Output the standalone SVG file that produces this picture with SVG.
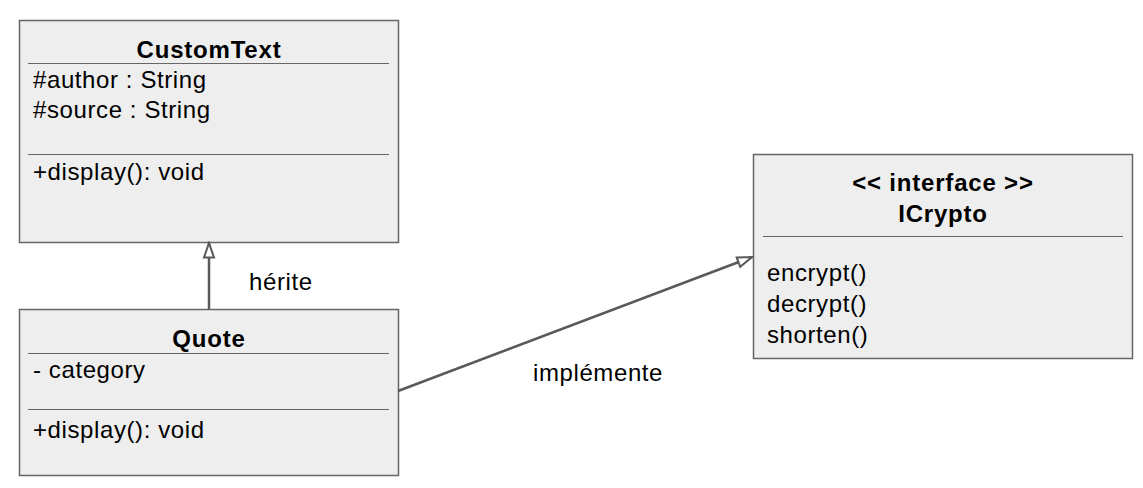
<svg xmlns="http://www.w3.org/2000/svg" width="1143" height="488" viewBox="0 0 1143 488">
<style>
.box{fill:#eeeeee;stroke:#666666;stroke-width:1.5}
.sep{stroke:#666666;stroke-width:1.2}
.t{font-family:"Liberation Sans",Arial,sans-serif;font-size:24px;letter-spacing:0.6px;fill:#000}
.b{font-weight:bold;text-anchor:middle;letter-spacing:0.8px}
.conn{stroke:#595959;stroke-width:2.5;fill:none}
</style>
<defs>
<marker id="tri" markerWidth="18" markerHeight="14" refX="16" refY="6" orient="auto" markerUnits="userSpaceOnUse" viewBox="0 0 18 12">
<path d="M1.5,1 L16,6 L1.5,11 Z" fill="#ffffff" stroke="#595959" stroke-width="2"/>
</marker>
</defs>
<g id="CustomText">
<rect class="box" x="19.5" y="20.5" width="379" height="222"/>
<text class="t b" x="209" y="58">CustomText</text>
<line class="sep" x1="28" y1="63.5" x2="389" y2="63.5"/>
<text class="t" x="33" y="88">#author : String</text>
<text class="t" x="33" y="118">#source : String</text>
<line class="sep" x1="28" y1="154.5" x2="389" y2="154.5"/>
<text class="t" x="33" y="180">+display(): void</text>
</g>
<g id="Quote">
<rect class="box" x="19.5" y="309.5" width="379" height="166"/>
<text class="t b" x="209" y="347">Quote</text>
<line class="sep" x1="28" y1="353.5" x2="389" y2="353.5"/>
<text class="t" x="33" y="378">- category</text>
<line class="sep" x1="28" y1="409.5" x2="389" y2="409.5"/>
<text class="t" x="33" y="438">+display(): void</text>
</g>
<g id="ICrypto">
<rect class="box" x="753.5" y="154.5" width="379" height="204"/>
<text class="t b" x="943" y="191">&lt;&lt; interface &gt;&gt;</text>
<text class="t b" x="943" y="222">ICrypto</text>
<line class="sep" x1="763" y1="236.5" x2="1123" y2="236.5"/>
<text class="t" x="767" y="281">encrypt()</text>
<text class="t" x="767" y="312">decrypt()</text>
<text class="t" x="767" y="343">shorten()</text>
</g>
<g id="connectors">
<line class="conn" x1="209" y1="309" x2="209" y2="243" marker-end="url(#tri)"/>
<line class="conn" x1="398" y1="391" x2="752" y2="257" marker-end="url(#tri)"/>
<text class="t" x="249" y="290">hérite</text>
<text class="t" x="533" y="381">implémente</text>
</g>
</svg>
